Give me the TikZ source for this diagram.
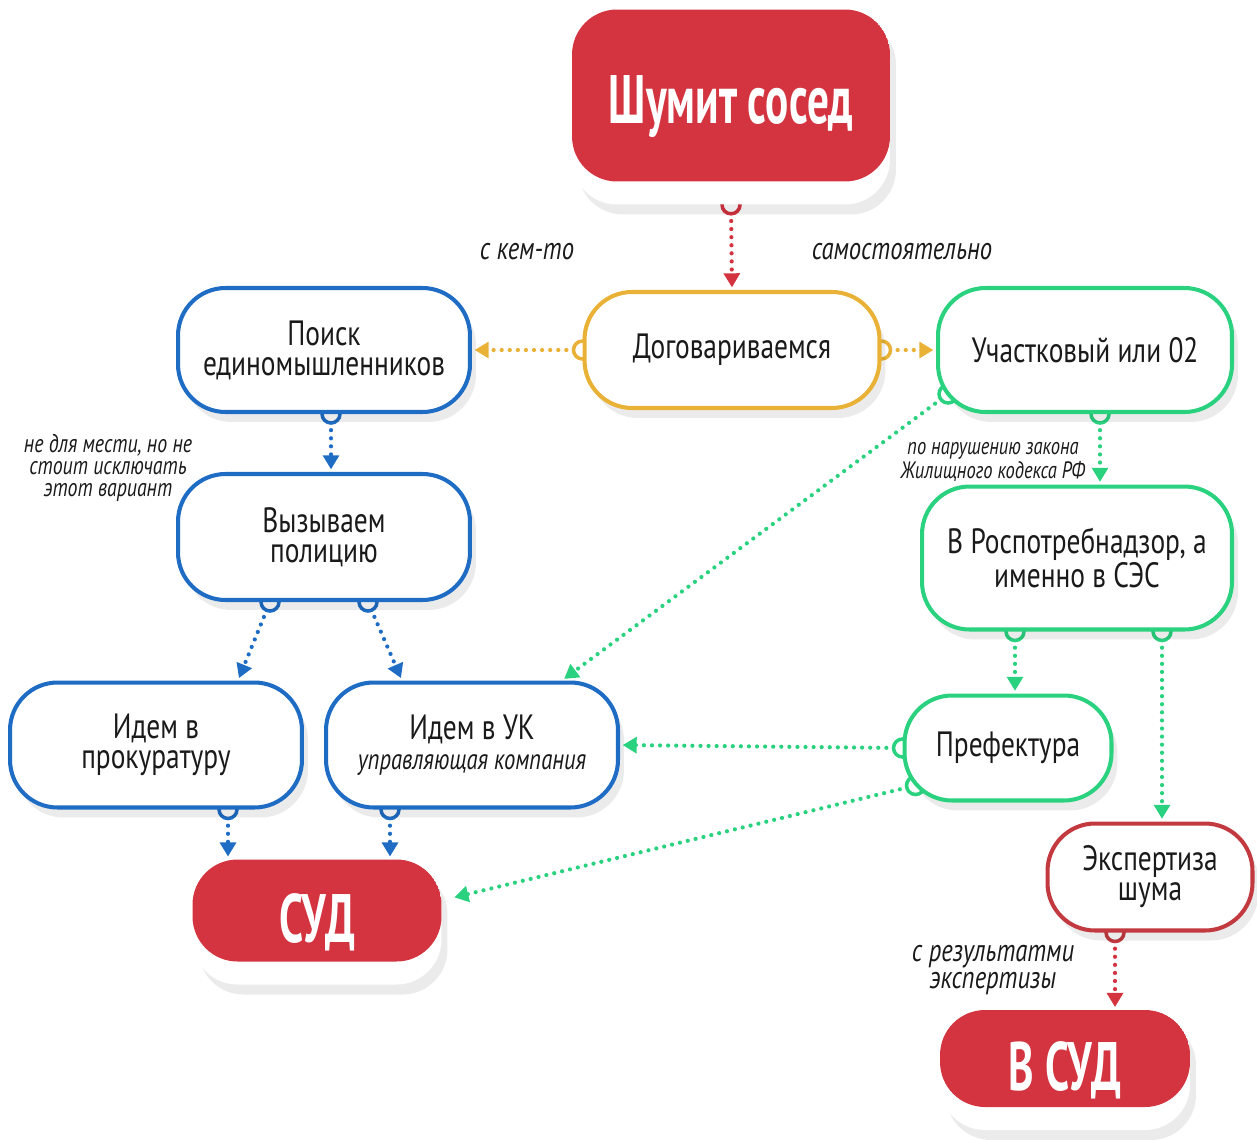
\documentclass[tikz,border=0pt]{standalone}
\usepackage{fontspec}
\setmainfont{PT Sans}[FakeStretch=0.78]
\newfontfamily\headfont{PT Sans}[FakeStretch=0.63]
\usetikzlibrary{arrows.meta,shadows,backgrounds,calc}
\definecolor{cred}{HTML}{D3343F}
\definecolor{credline}{HTML}{C23A40}
\definecolor{cblue}{HTML}{1F6CC4}
\definecolor{cgreen}{HTML}{2AD27F}
\definecolor{corange}{HTML}{E9B135}
\definecolor{ctext}{HTML}{1A1A1A}
\tikzset{
  boxshadow/.style={drop shadow={shadow xshift=0.12cm, shadow yshift=-0.2cm, opacity=0.08, fill=black}},
  box/.style={draw=#1, line width=2.3pt, fill=white, rounded corners=0.95cm, align=center,
    text=ctext, inner sep=0pt, font=\fontsize{20}{17}\selectfont, boxshadow},
  redbox/.style={fill=white, rounded corners=0.9cm, align=center, text=white, inner sep=0pt,
    font=\headfont\bfseries\fontsize{39}{39}\selectfont, boxshadow,
    path picture={\fill[cred] (path picture bounding box.north west)
      rectangle ([yshift=0.46cm]path picture bounding box.south east);}},
  link/.style={draw=#1, line width=2.4pt, line cap=round, dash pattern=on 0pt off 4.6pt,
    -{Triangle[length=8pt,width=9pt,fill=#1]}, shorten >=1.5pt},
  cup/.style={draw=#1, fill=white, line width=2pt},
  note/.style={font=\itshape\fontsize{18}{15}\selectfont, text=ctext, align=center}
}
\begin{document}
\begin{tikzpicture}[x=0.02cm, y=-0.02cm]
  \useasboundingbox (0,0) rectangle (1257,1139);
  % boxes
  \node[redbox, minimum width=6.36cm, minimum height=3.9cm] (top) at (731,107) {Шумит сосед};
  \node[box=corange, minimum width=5.9cm, minimum height=2.32cm] (dog) at (732,350) {Договариваемся};
  \node[box=cblue, minimum width=5.84cm, minimum height=2.48cm] (poisk) at (324,350) {Поиск\\единомышленников};
  \node[box=cgreen, minimum width=5.88cm, minimum height=2.48cm] (uch) at (1085,350) {Участковый или 02};
  \node[box=cblue, minimum width=5.84cm, minimum height=2.52cm] (vyz) at (324,537) {Вызываем\\полицию};
  \node[box=cblue, minimum width=5.84cm, minimum height=2.5cm] (prok) at (156,745) {Идем в\\прокуратуру};
  \node[box=cblue, minimum width=5.84cm, minimum height=2.5cm] (uk) at (472,745)
    {Идем в УК\\{\itshape\fontsize{16.5}{14}\selectfont управляющая компания}};
  \node[box=cgreen, minimum width=6.2cm, minimum height=2.86cm] (rosp) at (1077,558) {В Роспотребнадзор, а\\именно в СЭС};
  \node[box=cgreen, minimum width=4.14cm, minimum height=2.1cm] (pref) at (1008,748) {Префектура};
  \node[box=credline, minimum width=4.1cm, minimum height=2.14cm] (eksp) at (1150,877) {Экспертиза\\шума};
  \node[redbox, minimum width=4.98cm, minimum height=2.5cm] (sud) at (317,922) {СУД};
  \node[redbox, minimum width=5cm, minimum height=2.4cm] (vsud) at (1065,1070) {В СУД};
  % labels
  \node[note] (skem) at (527,252) {с кем-то};
  \node[note] (sam) at (902,252) {самостоятельно};
  \node[note, font=\itshape\fontsize{14.5}{12.5}\selectfont] (mest) at (108,468) {не для мести, но не\\стоит исключать\\этот вариант};
  \node[note, font=\itshape\fontsize{13.5}{11}\selectfont] (zakon) at (993,462) {по нарушению закона\\Жилищного кодекса РФ};
  \node[note] (rez) at (993,970) {с результатми\\экспертизы};
  % connectors
  \begin{scope}[on background layer]
    \draw[link=cred] (top.south) -- (dog.north);
    \draw[link=corange] (dog.west) -- (poisk.east);
    \draw[link=corange] (dog.east) -- (uch.west);
    \draw[link=cblue] ($(poisk.south)+(7,0)$) -- ($(vyz.north)+(7,0)$);
    \draw[link=cblue] ($(vyz.south)+(-54,0)$) -- ($(prok.north)+(82,0)$);
    \draw[link=cblue] ($(vyz.south)+(44,0)$) -- ($(uk.north)+(-70,0)$);
    \draw[link=cblue] ($(prok.south)+(72,0)$) -- ($(sud.north)+(-89,0)$);
    \draw[link=cblue] ($(uk.south)+(-82,0)$) -- ($(sud.north)+(73,0)$);
    \draw[link=cgreen] ($(uch.south west)+(12,-20)$) -- ($(uk.north)+(90,0)$);
    \draw[link=cgreen] ($(uch.south)+(15,0)$) -- ($(rosp.north)+(23,0)$);
    \draw[link=cgreen] ($(rosp.south)+(-62,0)$) -- ($(pref.north)+(7,0)$);
    \draw[link=cgreen] ($(rosp.south)+(85,0)$) -- ($(eksp.north)+(12,0)$);
    \draw[link=cgreen] (pref.west) -- (uk.east);
    \draw[link=cgreen] ($(pref.south west)+(13,-17)$) -- ($(sud.east)+(10,-24)$);
    \draw[link=cred] ($(eksp.south)+(-35,0)$) -- ($(vsud.north)+(50,0)$);
    % cups
    \draw[cup=cred] (top.south) circle (0.18cm);
    \draw[cup=corange] (dog.west) circle (0.18cm);
    \draw[cup=corange] (dog.east) circle (0.18cm);
    \draw[cup=cblue] ($(poisk.south)+(7,0)$) circle (0.18cm);
    \draw[cup=cblue] ($(vyz.south)+(-54,0)$) circle (0.18cm);
    \draw[cup=cblue] ($(vyz.south)+(44,0)$) circle (0.18cm);
    \draw[cup=cblue] ($(prok.south)+(72,0)$) circle (0.18cm);
    \draw[cup=cblue] ($(uk.south)+(-82,0)$) circle (0.18cm);
    \draw[cup=cgreen] ($(uch.south west)+(12,-20)$) circle (0.18cm);
    \draw[cup=cgreen] ($(uch.south)+(15,0)$) circle (0.18cm);
    \draw[cup=cgreen] ($(rosp.south)+(-62,0)$) circle (0.18cm);
    \draw[cup=cgreen] ($(rosp.south)+(85,0)$) circle (0.18cm);
    \draw[cup=cgreen] (pref.west) circle (0.18cm);
    \draw[cup=cgreen] ($(pref.south west)+(13,-17)$) circle (0.18cm);
    \draw[cup=credline] ($(eksp.south)+(-35,0)$) circle (0.18cm);
  \end{scope}
\end{tikzpicture}
\end{document}
